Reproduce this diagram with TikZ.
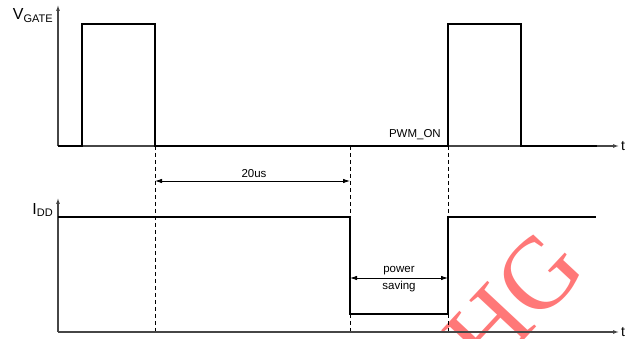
\documentclass[tikz,border=0pt]{standalone}
\usepackage{fontspec}
\setmainfont{Liberation Sans}
\newfontfamily\wmfont{Liberation Serif}
\usetikzlibrary{arrows.meta}
\definecolor{wm}{RGB}{255,120,120}
\definecolor{axc}{RGB}{70,70,70}
\tikzset{
  sig/.style={line width=1.8pt, black},
  axis/.style={line width=1.1pt, axc, -{Latex[length=6pt,width=4pt]}},
  guide/.style={line width=0.7pt, black, dash pattern=on 4pt off 3pt},
  dim/.style={line width=0.8pt, black, {Latex[length=7pt,width=4.5pt]}-{Latex[length=7pt,width=4.5pt]}},
  lbl/.style={font=\fontsize{11.5}{13}\selectfont, inner sep=0pt},
  ylbl/.style={anchor=east, inner sep=0pt, font=\fontsize{16}{18}\selectfont},
}
\newcommand{\subtxt}[1]{\raisebox{-0.35ex}{\fontsize{11}{12}\selectfont #1}}
\begin{document}
\begin{tikzpicture}[x=1pt,y=-1pt]
\useasboundingbox (0,0) rectangle (633,339);
% watermark
\begin{scope}
\clip (0,0) rectangle (633,339);
\node[wm, rotate=47, font=\wmfont\fontsize{102}{102}\selectfont, inner sep=0pt] (hg) at (514,302) {HG};
\end{scope}
% top axes
\coordinate (o1) at (58,146);
\coordinate (y1) at (58,5);
\coordinate (x1) at (619,146);
\draw[axis] (o1) -- (y1);
\draw[axis] (o1) -- (x1);
\node[ylbl] (vg) at (53,16) {V\subtxt{GATE}};
\node[anchor=west, inner sep=0pt, font=\fontsize{14}{16}\selectfont] (t1) at (621,146) {t};
% V_GATE signal
\draw[sig] (o1) -- (82,146) -- (82,24) -- (155,24) -- (155,146) -- (448,146) -- (448,24) -- (521,24) -- (521,146) -- (597,146);
\node[lbl, anchor=south east] (pwm) at (441,140) {PWM\_ON};
% guides
\coordinate (g1a) at (155,146); \coordinate (g1b) at (155,333);
\coordinate (g2a) at (350,146); \coordinate (g2b) at (350,333);
\coordinate (g3a) at (448,146); \coordinate (g3b) at (448,333);
\draw[guide] (g1a) -- (g1b);
\draw[guide] (g2a) -- (g2b);
\draw[guide] (g3a) -- (g3b);
% 20us
\coordinate (d1a) at (155,181); \coordinate (d1b) at (350,181);
\draw[dim] (d1a) -- (d1b);
\node[lbl, anchor=south] (us) at (254,178) {20us};
% bottom axes
\coordinate (o2) at (58,332);
\coordinate (y2) at (58,198);
\coordinate (x2) at (619,332);
\draw[axis] (o2) -- (y2);
\draw[axis] (o2) -- (x2);
\node[ylbl] (idd) at (53,210) {I\subtxt{DD}};
\node[anchor=west, inner sep=0pt, font=\fontsize{14}{16}\selectfont] (t2) at (621,332) {t};
% I_DD signal
\draw[sig] (58,217) -- (350,217) -- (350,314) -- (448,314) -- (448,217) -- (596,217);
% power saving
\coordinate (d2a) at (350,278); \coordinate (d2b) at (448,278);
\draw[dim] (d2a) -- (d2b);
\node[lbl, anchor=south] (pw) at (399,275) {power};
\node[lbl, anchor=north] (sv) at (399,281) {saving};
\end{tikzpicture}
\end{document}
